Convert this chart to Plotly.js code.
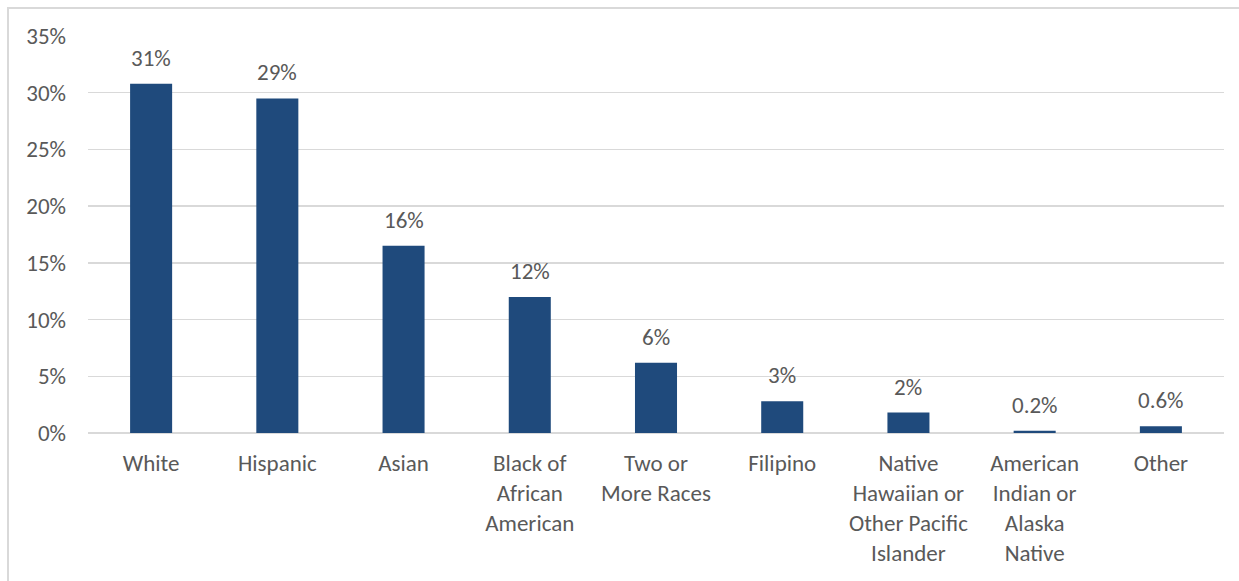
<!DOCTYPE html>
<html>
<head>
<meta charset="utf-8">
<script src="https://cdn.plot.ly/plotly-3.0.1.min.js"></script>
<style>
  html, body { margin: 0; padding: 0; background: #ffffff; }
  #wrap { position: relative; width: 1239px; height: 581px; overflow: hidden; }
  #frame { position: absolute; left: 7px; top: 7px; width: 1240px; height: 580px;
           border-left: 2px solid #d9d9d9; border-top: 2px solid #d9d9d9; box-sizing: border-box; }
  #chart { position: absolute; left: 0; top: 0; width: 1239px; height: 581px; }
</style>
</head>
<body>
<div id="wrap">
  <div id="frame"></div>
  <div id="chart"></div>
</div>
<script>
const categories = [
  "White",
  "Hispanic",
  "Asian",
  "Black of<br>African<br>American",
  "Two or<br>More Races",
  "Filipino",
  "Native<br>Hawaiian or<br>Other Pacific<br>Islander",
  "American<br>Indian or<br>Alaska<br>Native",
  "Other"
];
const shares = [0.308, 0.295, 0.165, 0.120, 0.062, 0.028, 0.018, 0.002, 0.006];
const valueLabels = ["31%", "29%", "16%", "12%", "6%", "3%", "2%", "0.2%", "0.6%"];
const yTickValues = [0, 0.05, 0.10, 0.15, 0.20, 0.25, 0.30, 0.35];
const yTickLabels = ["0%", "5%", "10%", "15%", "20%", "25%", "30%", "35%"];

const FONT = "Carlito, 'Liberation Sans', Arial, sans-serif";
const TEXT_COLOR = "#595959";
const FS = 23;

const trace = {
  type: "bar",
  x: categories,
  y: shares,
  marker: { color: "#1f4a7c" },
  hoverinfo: "skip"
};

const annotations = categories.map((c, i) => ({
  x: c,
  y: shares[i],
  xref: "x",
  yref: "y",
  text: valueLabels[i],
  showarrow: false,
  yanchor: "bottom",
  xanchor: "center",
  yshift: 10,
  font: { family: FONT, size: FS, color: TEXT_COLOR }
}));

const layout = {
  width: 1239,
  height: 581,
  margin: { l: 88, r: 15, t: 36, b: 148 },
  paper_bgcolor: "rgba(0,0,0,0)",
  plot_bgcolor: "rgba(0,0,0,0)",
  showlegend: false,
  bargap: 0.667,
  font: { family: FONT, size: FS, color: TEXT_COLOR },
  xaxis: {
    type: "category",
    showgrid: false,
    showline: false,
    zeroline: false,
    ticks: "",
    ticklabelstandoff: 14,
    tickfont: { family: FONT, size: FS, color: TEXT_COLOR },
    fixedrange: true
  },
  yaxis: {
    range: [0, 0.35],
    tickvals: yTickValues,
    ticktext: yTickLabels,
    showgrid: true,
    gridcolor: "#d9d9d9",
    gridwidth: 1.5,
    zeroline: true,
    zerolinecolor: "#d9d9d9",
    zerolinewidth: 1.5,
    showline: false,
    ticks: "",
    ticklabelstandoff: 21,
    tickfont: { family: FONT, size: FS, color: TEXT_COLOR },
    fixedrange: true
  },
  annotations: annotations
};

Plotly.newPlot("chart", [trace], layout, { displayModeBar: false, staticPlot: true });
</script>
</body>
</html>
